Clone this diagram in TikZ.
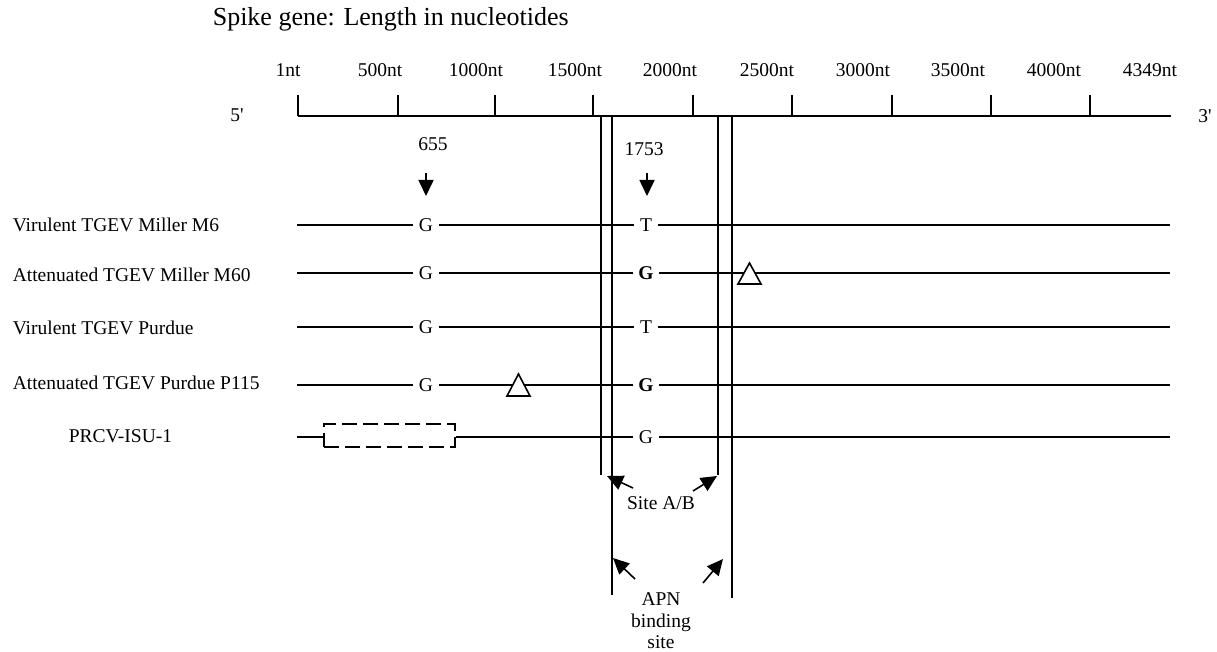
\documentclass[tikz,border=0pt]{standalone}
\usepackage{fontspec}
\setmainfont{Liberation Serif}
\usetikzlibrary{arrows.meta}
\begin{document}
\begin{tikzpicture}[x=1pt,y=-1pt,line width=1.6pt,
  lbl/.style={font=\fontsize{19.5}{21.5}\selectfont,inner sep=0pt},
  base/.style={font=\fontsize{19.5}{21.5}\selectfont,inner sep=5pt},
  arr/.style={-{Triangle[length=16pt,width=15pt]}},
  tri/.style={fill=white,draw},
  dbox/.style={draw,dash pattern=on 15pt off 6pt,minimum width=131pt,minimum height=23pt,inner sep=0pt}]
\useasboundingbox (0,0) rectangle (1217,652);
% title
\node[anchor=west,font=\fontsize{26}{30}\selectfont,inner sep=0pt] (title) at (212,19) {Spike gene: Length in nucleotides};
% axis
\coordinate (a0) at (298,116);
\coordinate (a1) at (1171,116);
\draw (a0) -- (a1);
\foreach \x in {298,398,495,593,693,792,892,991,1090}{\draw (\x,95) -- (\x,116);}
\node[lbl] (l1) at (288,70) {1nt};
\node[lbl] (l2) at (380,70) {500nt};
\node[lbl] (l3) at (476,70) {1000nt};
\node[lbl] (l4) at (575,70) {1500nt};
\node[lbl] (l5) at (670,70) {2000nt};
\node[lbl] (l6) at (767,70) {2500nt};
\node[lbl] (l7) at (863,70) {3000nt};
\node[lbl] (l8) at (958,70) {3500nt};
\node[lbl] (l9) at (1054,70) {4000nt};
\node[lbl] (l10) at (1150,70) {4349nt};
\node[lbl] (five) at (237,115) {5\textquotesingle};
\node[lbl] (three) at (1205,116) {3\textquotesingle};
% position markers
\node[lbl] (p655) at (433,144) {655};
\node[lbl] (p1753) at (644,149) {1753};
\coordinate (m1s) at (426,173); \coordinate (m1e) at (426,196);
\coordinate (m2s) at (647,173); \coordinate (m2e) at (647,196);
\draw[arr] (m1s) -- (m1e);
\draw[arr] (m2s) -- (m2e);
% row labels
\node[lbl,anchor=west] (n1) at (12,225) {Virulent TGEV Miller M6};
\node[lbl,anchor=west] (n2) at (12,275) {Attenuated TGEV Miller M60};
\node[lbl,anchor=west] (n3) at (12,328) {Virulent TGEV Purdue};
\node[lbl,anchor=west] (n4) at (12,383) {Attenuated TGEV Purdue P115};
\node[lbl,anchor=west] (n5) at (68,436) {PRCV-ISU-1};
% row 1
\coordinate (s1) at (297,225); \coordinate (e1) at (1170,225);
\node[base] (g1) at (426,225) {G};
\node[base] (t1) at (646,225) {T};
\draw (s1) -- (g1) -- (t1) -- (e1);
% row 2
\coordinate (s2) at (297,273); \coordinate (e2) at (1170,273);
\node[base] (g2) at (426,273) {G};
\node[base] (b2) at (646,273) {\bfseries G};
\draw (s2) -- (g2) -- (b2) -- (e2);
\filldraw[tri] (738,284) -- (749.5,263) -- (761,284) -- cycle;
% row 3
\coordinate (s3) at (297,327); \coordinate (e3) at (1170,327);
\node[base] (g3) at (426,327) {G};
\node[base] (t3) at (646,327) {T};
\draw (s3) -- (g3) -- (t3) -- (e3);
% row 4
\coordinate (s4) at (297,385); \coordinate (e4) at (1170,385);
\node[base] (g4) at (426,385) {G};
\node[base] (b4) at (646,385) {\bfseries G};
\draw (s4) -- (g4) -- (b4) -- (e4);
\filldraw[tri] (507,396) -- (518.5,374) -- (530,396) -- cycle;
% row 5
\coordinate (s5) at (297,437); \coordinate (e5) at (1170,437);
\node[dbox] (box) at (389.5,435.5) {};
\node[base] (g5) at (646,437) {G};
\draw (s5) -- (s5 -| box.west);
\draw (s5 -| box.east) -- (g5) -- (e5);
% vertical site lines
\coordinate (v1t) at (601,116); \coordinate (v1b) at (601,475);
\coordinate (v2t) at (612,116); \coordinate (v2b) at (612,595);
\coordinate (v3t) at (718,116); \coordinate (v3b) at (718,475);
\coordinate (v4t) at (732,116); \coordinate (v4b) at (732,598);
\draw (v1t) -- (v1b);
\draw (v2t) -- (v2b);
\draw (v3t) -- (v3b);
\draw (v4t) -- (v4b);
% Site A/B
\node[lbl] (site) at (661,503) {Site A/B};
\coordinate (sa1) at (633,488); \coordinate (ta1) at (607,476);
\coordinate (sa2) at (693,491); \coordinate (ta2) at (717,476);
\draw[arr] (sa1) -- (ta1);
\draw[arr] (sa2) -- (ta2);
% APN binding site
\node[lbl,align=center] (apn) at (661,621) {APN\\binding\\site};
\coordinate (sb1) at (635,579); \coordinate (tb1) at (613,558);
\coordinate (sb2) at (703,583); \coordinate (tb2) at (723,559);
\draw[arr] (sb1) -- (tb1);
\draw[arr] (sb2) -- (tb2);
\end{tikzpicture}
\end{document}
